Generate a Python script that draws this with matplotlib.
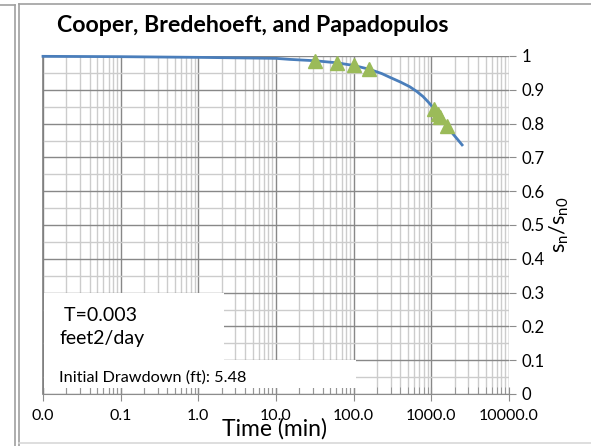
import matplotlib
matplotlib.use("Agg")
import matplotlib.pyplot as plt
from matplotlib.lines import Line2D
from matplotlib.patches import Rectangle
from matplotlib.ticker import LogLocator, FixedLocator, FuncFormatter, MultipleLocator

plt.rcParams['font.family'] = ['Lato', 'DejaVu Sans']

# type curve
curve_time = [0.01, 0.1, 1, 10, 15, 31.6, 60, 100, 158, 230, 292, 400, 528, 650,
              783, 920, 1076, 1312, 1597, 1905, 2200, 2489]
curve_ratio = [0.999, 0.998, 0.996, 0.993, 0.990, 0.986, 0.980, 0.972, 0.961, 0.948,
               0.937, 0.923, 0.909, 0.895, 0.880, 0.863, 0.845, 0.821, 0.794, 0.769,
               0.752, 0.737]

# measured points (triangles)
obs_time = [31.6, 60.3, 100.6, 158, 1076, 1225, 1312, 1597]
obs_ratio = [0.986, 0.980, 0.973, 0.961, 0.842, 0.828, 0.820, 0.793]

title = "Cooper, Bredehoeft, and Papadopulos"
x_ticks = [0.01, 0.1, 1, 10, 100, 1000, 10000]

W, H = 591, 446
fig = plt.figure(figsize=(W / 100, H / 100), dpi=100)
ax = fig.add_axes([43 / W, 1 - 394 / H, (509 - 43) / W, (394 - 56) / H])

major_c = "#888888"
minor_c = "#cccccc"

ax.set_xscale("log")
ax.set_xlim(0.01, 10000)
ax.set_ylim(0, 1)

ax.xaxis.set_major_locator(FixedLocator(x_ticks))
ax.xaxis.set_minor_locator(LogLocator(base=10, subs=range(2, 10), numticks=20))
ax.xaxis.set_major_formatter(FuncFormatter(lambda v, p: "%.1f" % v))
ax.xaxis.set_minor_formatter(FuncFormatter(lambda v, p: ""))
ax.yaxis.set_major_locator(MultipleLocator(0.1))
ax.yaxis.set_minor_locator(MultipleLocator(0.05))
ax.yaxis.set_major_formatter(FuncFormatter(lambda v, p: "%g" % round(v, 2)))
ax.yaxis.tick_right()
ax.yaxis.set_label_position("right")

ax.grid(which="minor", color=minor_c, lw=1.0, zorder=0)
ax.grid(which="major", color=major_c, lw=1.0, zorder=0)
ax.set_axisbelow(True)

for s in ["top", "right"]:
    ax.spines[s].set_visible(False)
ax.spines["left"].set_color("#7f7f7f")
ax.spines["bottom"].set_color("#8c8c8c")
ax.spines["left"].set_linewidth(1.2)

ax.tick_params(axis="x", which="major", direction="inout", length=10, color="#8c8c8c",
               labelsize=11.5, pad=6)
ax.tick_params(axis="x", which="minor", direction="in", length=5, color="#8c8c8c")
ax.tick_params(axis="y", which="major", direction="out", length=5, color="#8c8c8c",
               labelsize=12, pad=4, left=False, right=True)
ax.tick_params(axis="y", which="minor", length=0)

ax.plot(curve_time, curve_ratio, color="#4a7ebb", lw=2, zorder=3, clip_on=False)
ax.plot(obs_time, obs_ratio, ls="none", marker="^", ms=10, color="#9bbb59", zorder=4,
        clip_on=False)

# text boxes that sit over the grid
ax.add_patch(Rectangle((0.0025, 0.10), 0.386, 0.200, transform=ax.transAxes,
                       facecolor="white", edgecolor="none", zorder=5))
ax.add_patch(Rectangle((0.0025, 0.018), 0.670, 0.083, transform=ax.transAxes,
                       facecolor="white", edgecolor="none", zorder=5))
ax.text(0.035, 0.198, " T=0.003\nfeet2/day", transform=ax.transAxes, fontsize=14,
        va="center", ha="left", zorder=6, linespacing=1.4)
ax.text(0.035, 0.05, "Initial Drawdown (ft): 5.48", transform=ax.transAxes,
        fontsize=11.7, va="center", ha="left", zorder=6)

ax.set_ylabel(r"$\mathregular{s_n/s_{n0}}$", fontsize=15.5, labelpad=2)
fig.text(275 / W, 1 - 429 / H, "Time (min)", fontsize=16.5, ha="center", va="center")
fig.text(57 / W, 1 - 26 / H, title, fontsize=16.7, fontweight="bold", ha="left",
         va="center")

# sheet / chart frame lines
def frame(xs, ys, c):
    fig.add_artist(Line2D([x / W for x in xs], [1 - y / H for y in ys], color=c, lw=1.2))

frame([0, 15], [5, 5], "#a0a0a0")
frame([15, 15], [5, 446], "#a0a0a0")
frame([19, 19], [4, 446], "#a0a0a0")
frame([19, 591], [4, 4], "#a0a0a0")
frame([19, 591], [443, 443], "#d8d8d8")

fig.savefig("out.png", dpi=100)
